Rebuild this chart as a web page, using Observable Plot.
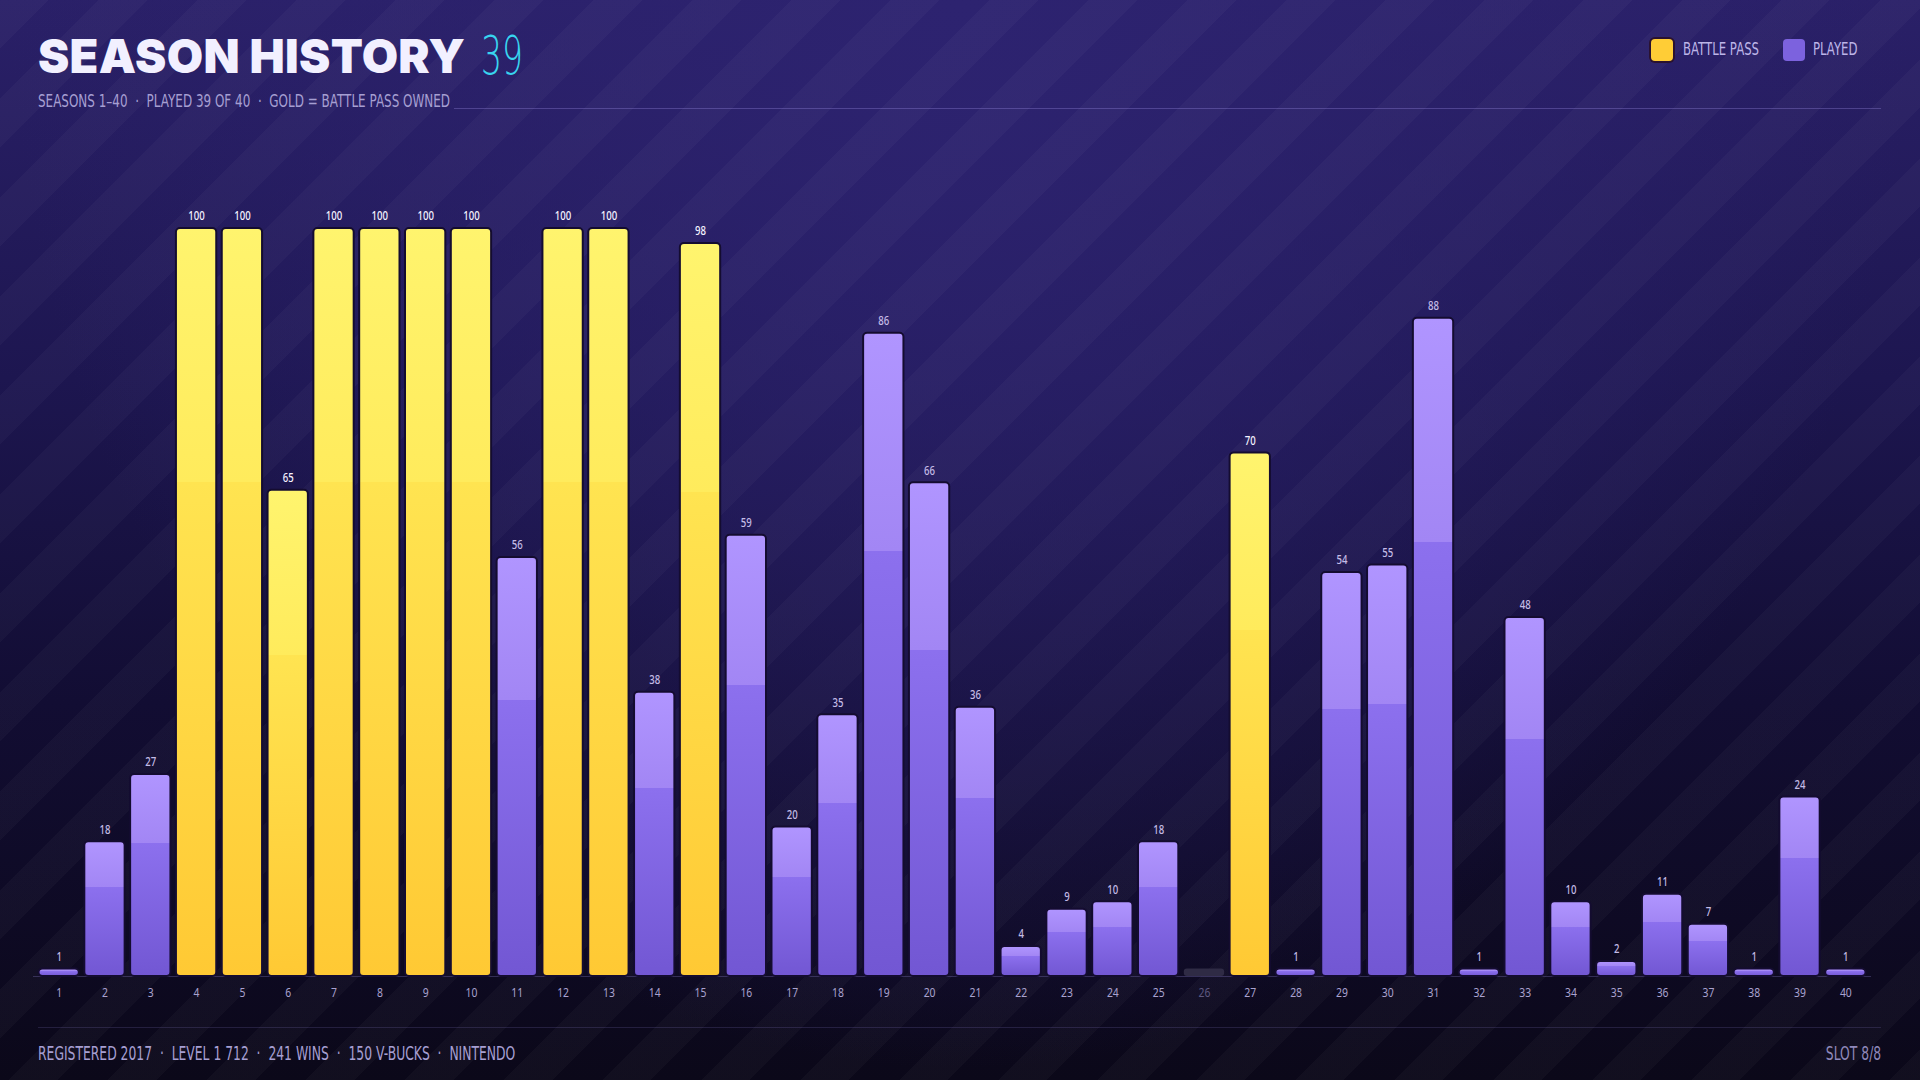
<!DOCTYPE html>
<html>
<head>
<meta charset="utf-8">
<script src="https://cdn.jsdelivr.net/npm/d3@7"></script>
<script src="https://cdn.jsdelivr.net/npm/@observablehq/plot@0.6"></script>
<style>
  html, body { margin: 0; padding: 0; }
  body {
    width: 1920px; height: 1080px; overflow: hidden; position: relative;
    background:
      repeating-linear-gradient(135deg, rgba(255,255,255,0.026) 0 34px, rgba(255,255,255,0) 34px 70px),
      radial-gradient(ellipse at 50% 0%, #2d2370 0%, rgba(45,35,112,0) 70%),
      linear-gradient(180deg, #2a2068 0%, #1d1650 35%, #120d33 65%, #0b0819 100%);
    font-family: "DejaVu Sans", sans-serif;
  }
  .sq { display: inline-block; transform: scaleX(0.65); transform-origin: left center; white-space: nowrap; }
  .sqr { display: inline-block; transform: scaleX(0.65); transform-origin: right center; white-space: nowrap; }
  #title { position: absolute; left: 38px; top: 27px; white-space: nowrap; }
  #title .main { font-family: "Inter", "Lato", sans-serif; font-weight: 900; font-size: 47px; color: #f2f0ff; letter-spacing: 0.3px; }
  #num { position: absolute; left: 481px; top: 24px; font-size: 54px; color: #38d4ef; font-weight: 300; transform: scaleX(0.61); }
  #sub { position: absolute; left: 38px; top: 90px; font-size: 18px; color: #a69fd2; transform: scaleX(0.665); }
  #subline { position: absolute; left: 454px; top: 108px; width: 1427px; height: 1px; background: rgba(150,135,220,0.35); }
  .sw { position: absolute; width: 22px; height: 22px; border-radius: 4px; top: 39px; }
  .lab { position: absolute; top: 38px; font-size: 18px; color: #bdb5e8; }
  #chart { position: absolute; left: 0; top: 130px; }
  #footline { position: absolute; left: 38px; top: 1027px; width: 1843px; height: 1px; background: rgba(150,135,220,0.18); }
  #footl { position: absolute; left: 38px; top: 1042px; font-size: 19px; color: #a69fd2; }
  #footr { position: absolute; right: 39px; top: 1042px; font-size: 19px; color: #8f88ba; }
</style>
</head>
<body>
<div id="title"><span class="main">SEASON HISTORY</span></div>
<div id="num" class="sq">39</div>
<div id="sub" class="sq">SEASONS 1–40 &nbsp;·&nbsp; PLAYED 39 OF 40 &nbsp;·&nbsp; GOLD = BATTLE PASS OWNED</div>
<div id="subline"></div>
<div class="sw" style="left:1651px;background:#ffcd36;box-shadow:0 0 0 2px #2a1230;"></div>
<div class="lab sq" style="left:1683px;">BATTLE PASS</div>
<div class="sw" style="left:1783px;background:#7c62de;"></div>
<div class="lab sq" style="left:1813px;">PLAYED</div>
<div id="chart"></div>
<div id="footline"></div>
<div id="footl" class="sq">REGISTERED 2017 &nbsp;·&nbsp; LEVEL 1 712 &nbsp;·&nbsp; 241 WINS &nbsp;·&nbsp; 150 V-BUCKS &nbsp;·&nbsp; NINTENDO</div>
<div id="footr" class="sqr">SLOT 8/8</div>
<script>
// Data
const seasons = d3.range(1, 41);
const tiers = [1, 18, 27, 100, 100, 65, 100, 100, 100, 100,
               56, 100, 100, 38, 98, 59, 20, 35, 86, 66,
               36, 4, 9, 10, 18, 0, 70, 1, 54, 55,
               88, 1, 48, 10, 2, 11, 7, 1, 24, 1];
const battlePass = [4, 5, 6, 7, 8, 9, 10, 12, 13, 15, 27];
const unplayed = [26];
const stubValue = 1;

const rows = seasons.map((s, i) => ({
  season: String(s),
  tier: tiers[i],
  bp: battlePass.includes(s),
  played: !unplayed.includes(s)
}));
const playedRows = rows.filter(d => d.played);
const unplayedRows = rows.filter(d => !d.played);

const W = 1920, H = 880;
const plot = Plot.plot({
  width: W,
  height: H,
  marginLeft: 33,
  marginRight: 49,
  marginTop: 98,
  marginBottom: 34,
  style: { background: "transparent", overflow: "visible" },
  x: { type: "band", domain: seasons.map(String), paddingInner: 0.12, paddingOuter: 0.12, axis: null },
  y: { domain: [0, 100], axis: null },
  marks: [
    Plot.ruleY([0], { stroke: "#6f63a8", strokeOpacity: 0.4, strokeWidth: 1 }),
    Plot.barY(unplayedRows, { x: "season", y: () => stubValue, fill: "#2f2b45", rx: 3 }),
    Plot.barY(playedRows, {
      x: "season", y: "tier",
      fill: d => d.bp ? "url(#gradGold)" : "url(#gradPurple)",
      stroke: "#140c30", strokeWidth: 2, rx: 4
    }),
    Plot.text(playedRows, {
      x: "season", y: "tier", dy: -12, text: d => String(d.tier),
      fill: d => d.bp ? "#f4f2ff" : "#c4bce6",
      fontSize: 12, fontWeight: 500,
      className: "vlab"
    }),
    Plot.text(rows, {
      x: "season", y: 0, dy: 16, text: "season",
      fill: d => d.played ? "#a9a2cf" : "#5e5880",
      fontSize: 13,
      className: "tlab"
    })
  ]
});

// gradients
const svg = d3.select(plot);
const defs = svg.insert("defs", ":first-child");
const g1 = defs.append("linearGradient").attr("id", "gradGold").attr("x1", 0).attr("y1", 0).attr("x2", 0).attr("y2", 1);
[["0%", "#fff46e"], ["34%", "#ffeb5c"], ["34%", "#ffe451"], ["100%", "#ffc934"]].forEach(([o, c]) =>
  g1.append("stop").attr("offset", o).attr("stop-color", c));
const g2 = defs.append("linearGradient").attr("id", "gradPurple").attr("x1", 0).attr("y1", 0).attr("x2", 0).attr("y2", 1);
[["0%", "#b095ff"], ["34%", "#a286f4"], ["34%", "#8c70ee"], ["100%", "#7257d3"]].forEach(([o, c]) =>
  g2.append("stop").attr("offset", o).attr("stop-color", c));

// condense label glyphs horizontally, like the reference's narrow face
svg.selectAll(".vlab text, .tlab text").each(function () {
  const t = d3.select(this);
  const tr = t.attr("transform") || "";
  t.attr("transform", tr + " scale(0.8,1)");
});
svg.selectAll(".vlab text, .tlab text").each(function () {
  const t = d3.select(this);
  const x = +t.attr("x") || 0;
  if (x) t.attr("x", x / 0.8);
});

document.getElementById("chart").appendChild(plot);
</script>
</body>
</html>
